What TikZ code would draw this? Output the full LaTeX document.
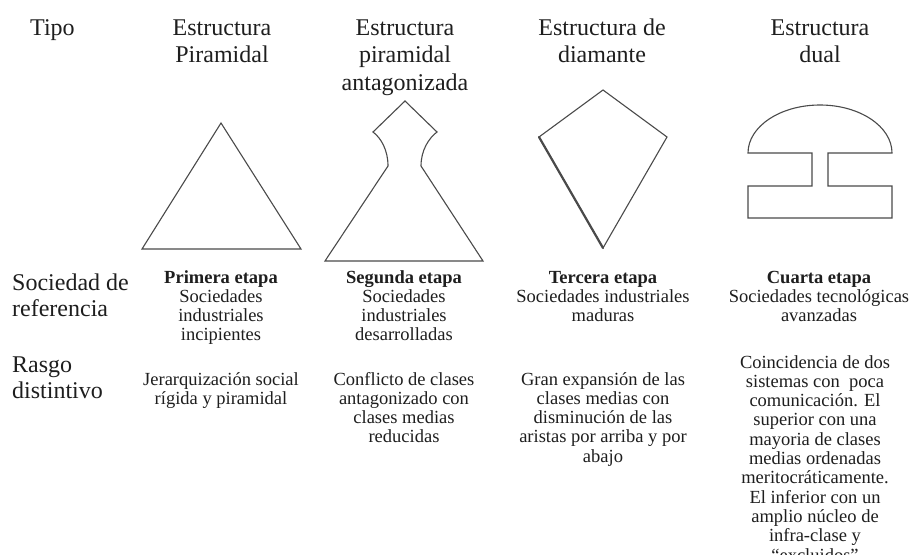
\documentclass[tikz,border=0pt]{standalone}
\usepackage{fontspec}
\setmainfont{Liberation Serif}
\definecolor{txt}{HTML}{1E1E1E}
\definecolor{ln}{HTML}{4A4A4A}
\begin{document}
\begin{tikzpicture}[x=1pt,y=-1pt,
  hdr/.style={font=\fontsize{24}{27.5}\selectfont, align=center, anchor=base, inner sep=0pt, text=txt},
  lbl/.style={font=\fontsize{24}{26}\selectfont, align=left, anchor=base west, inner sep=0pt, text=txt},
  body/.style={font=\fontsize{18.5}{19.3}\selectfont, align=center, anchor=base, inner sep=0pt, text=txt},
  shp/.style={draw=ln, line width=1.1pt, line join=miter}]
\useasboundingbox (0,0) rectangle (912,554);
\clip (0,0) rectangle (912,554);
\fill[white] (0,0) rectangle (912,554);

% headers (base anchor = baseline of last line)
\node[lbl] (tipo) at (30,35) {Tipo};
\node[hdr] (h1) at (222,62.5) {Estructura\\Piramidal};
\node[hdr] (h2) at (405,90) {Estructura\\piramidal\\antagonizada};
\node[hdr] (h3) at (602,62.5) {Estructura de\\diamante};
\node[hdr] (h4) at (820,62.5) {Estructura\\dual};

% row labels
\node[lbl] (soc) at (12,316) {Sociedad de\\referencia};
\node[lbl] (ras) at (12,398) {Rasgo\\distintivo};

% sociedad de referencia
\node[body] (s1) at (221,340.9) {\textbf{Primera etapa}\\Sociedades\\industriales\\incipientes};
\node[body] (s2) at (404,340.9) {\textbf{Segunda etapa}\\Sociedades\\industriales\\desarrolladas};
\node[body] (s3) at (603,321.6) {\textbf{Tercera etapa}\\Sociedades industriales\\maduras};
\node[body] (s4) at (819,321.6) {\textbf{Cuarta etapa}\\Sociedades tecnológicas\\avanzadas};

% rasgo distintivo
\node[body] (r1) at (221,404.3) {Jerarquización social\\rígida y piramidal};
\node[body] (r2) at (404,442.9) {Conflicto de clases\\antagonizado con\\clases medias\\reducidas};
\node[body] (r3) at (603,462.2) {Gran expansión de las\\clases medias con\\disminución de las\\aristas por arriba y por\\abajo};
\node[body] (r4) at (815,561) {Coincidencia de dos\\sistemas con~~poca\\comunicación. El\\superior con una\\mayoria de clases\\medias ordenadas\\meritocráticamente.\\El inferior con un\\amplio núcleo de\\infra-clase y\\“excluidos”};

% shapes
\draw[shp] (221,123) -- (142,249) -- (301,249) -- cycle;

\draw[shp] (405,101) -- (437,132) .. controls (429,138) and (421,150) .. (421,166)
  -- (483,261) -- (325,261) -- (388,166) .. controls (388,150) and (381,138) .. (373,132) -- cycle;

\draw[shp] (603,90) -- (667,137) -- (603,248) -- (539,137) -- cycle;
\draw[ln, line width=2.2pt, line cap=round] (539,137) -- (603,248);

\draw[shp] (748,153) -- (812,153) -- (812,186) -- (748,186) -- (748,218) -- (892,218)
  -- (892,186) -- (828,186) -- (828,153) -- (892,153)
  arc[start angle=0, end angle=-180, x radius=72, y radius=48] -- cycle;
\end{tikzpicture}
\end{document}
